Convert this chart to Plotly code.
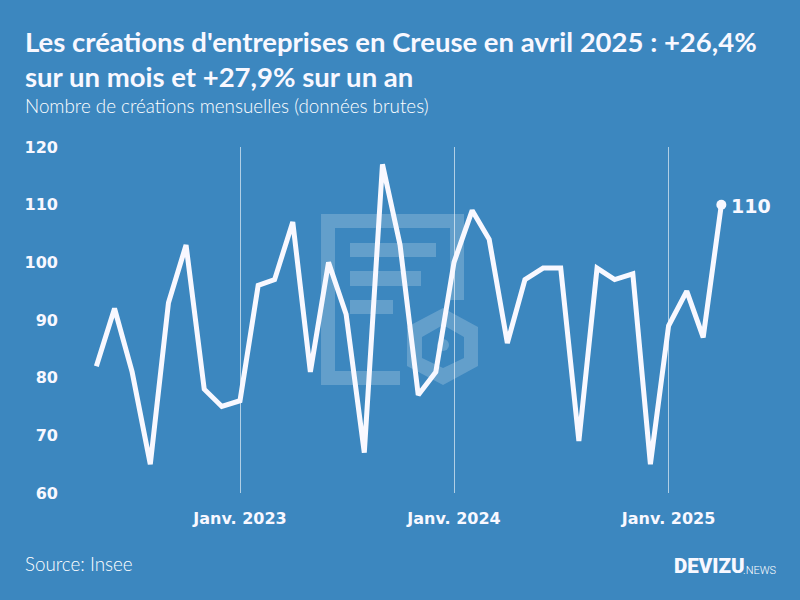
import pandas as pd
import plotly.graph_objects as go

# creations mensuelles, mai 2022 -> avril 2025
mois = pd.date_range('2022-05-01', '2025-04-01', freq='MS')
creations = [82, 92, 81, 65, 93, 103, 78, 75,
             76, 96, 97, 107, 81, 100, 91, 67, 117, 103, 77, 81,
             100, 109, 104, 86, 97, 99, 99, 69, 99, 97, 98, 65,
             89, 95, 87, 110]
x_ticks = ['2023-01-01', '2024-01-01', '2025-01-01']
x_labels = ['Janv. 2023', 'Janv. 2024', 'Janv. 2025']
y_ticks = [60, 70, 80, 90, 100, 110, 120]

BG = '#3C87BF'
WHITE = '#F8F8FF'
FONT = 'Lato'
NUM_FONT = 'DejaVu Sans'
LOGO = 'rgba(255,255,255,0.2)'

# zone de trace en pixels
L, R, T, B = 62, 790, 147, 493
PX_PER_DAY = 214 / 365
jan23 = pd.Timestamp('2023-01-01')
x_start = jan23 - pd.Timedelta(days=(240 - L) / PX_PER_DAY)
x_end = jan23 + pd.Timedelta(days=(R - 240) / PX_PER_DAY)


def px(x):
    return (x - L) / (R - L)


def py(y):
    return (B - y) / (B - T)


def path(points):
    return 'M ' + ' L '.join(f'{px(x):.4f},{py(y):.4f}' for x, y in points) + ' Z'


# filigrane (document + hexagone)
doc = [(321, 214), (464, 214), (464, 300), (450, 300), (450, 228), (335, 228),
       (335, 371), (400, 371), (400, 385), (321, 385)]
hex_out = [(443, 308), (478, 327), (478, 366), (443, 385), (407, 366), (407, 327)]
hex_in = [(443, 325), (464, 337), (464, 358), (443, 368), (422, 358), (422, 337)]
bars = [(350, 243, 436, 257), (350, 271, 421, 286), (350, 300, 393, 314)]

shapes = [dict(type='path', path=path(doc), xref='paper', yref='paper',
               fillcolor=LOGO, line_width=0, layer='below'),
          dict(type='path', path=path(hex_out) + ' ' + path(hex_in), xref='paper', yref='paper',
               fillcolor=LOGO, line_width=0, layer='below'),
          dict(type='circle', x0=px(437), x1=px(449), y0=py(351), y1=py(339), xref='paper', yref='paper',
               fillcolor=LOGO, line_width=0, layer='below')]
for x0, y0, x1, y1 in bars:
    shapes.append(dict(type='rect', x0=px(x0), x1=px(x1), y0=py(y0), y1=py(y1),
                       xref='paper', yref='paper', fillcolor=LOGO, line_width=0, layer='below'))


def note(text, x, y, size, weight='normal', family=FONT, color=WHITE):
    return dict(text=text, x=px(x), y=py(y), xref='paper', yref='paper', showarrow=False,
                xanchor='left', yanchor='middle', align='left',
                font=dict(family=family, size=size, color=color, weight=weight))


annotations = [
    note("Les créations d'entreprises en Creuse en avril 2025 : +26,4%", 22.5, 41, 27.5, 'bold'),
    note('sur un mois et +27,9% sur un an', 22.5, 76, 27.5, 'bold'),
    note('Nombre de créations mensuelles (données brutes)', 22.5, 105, 18.8, 300, color='#FFFFFF'),
    note('Source: Insee', 22.5, 563, 18.8, 300, color='#FFFFFF'),
    note('DEVIZU', 672, 566, 20.5, 900, family='Roboto'),
    note('.NEWS', 741, 570, 11, 300, family='Roboto', color='#FFFFFF'),
    # derniere valeur, a droite du point
    dict(text=str(creations[-1]), x=mois[-1], y=creations[-1], xref='x', yref='y', showarrow=False,
         xanchor='left', yanchor='middle', xshift=8, yshift=-1,
         font=dict(family=NUM_FONT, size=19, color=WHITE, weight='bold')),
]

fig = go.Figure()
fig.add_trace(go.Scatter(x=mois, y=creations, mode='lines',
                         line=dict(color=WHITE, width=5), hoverinfo='skip'))
fig.add_trace(go.Scatter(x=mois[-1:], y=creations[-1:], mode='markers',
                         marker=dict(color=WHITE, size=10), hoverinfo='skip'))

fig.update_layout(
    width=800, height=600, autosize=False,
    paper_bgcolor=BG, plot_bgcolor=BG, showlegend=False,
    margin=dict(l=L, r=800 - R, t=T, b=600 - B, pad=0),
    shapes=shapes, annotations=annotations,
)
fig.update_xaxes(type='date', range=[x_start, x_end], tickvals=x_ticks, ticktext=x_labels,
                 showgrid=True, gridcolor='rgba(255,255,255,0.6)', gridwidth=1,
                 zeroline=False, showline=False, ticks='', ticklabelstandoff=14,
                 tickfont=dict(family=NUM_FONT, size=16, color=WHITE, weight='bold'))
fig.update_yaxes(range=[60, 120], tickvals=y_ticks, showgrid=False, zeroline=False,
                 showline=False, ticks='', automargin=False, ticklabelstandoff=3,
                 tickfont=dict(family=NUM_FONT, size=16, color=WHITE, weight='bold'))

# enlever la marge par defaut du body
fig.write_html("out.html", config={'displayModeBar': False},
               post_script="document.body.style.margin='0';")
